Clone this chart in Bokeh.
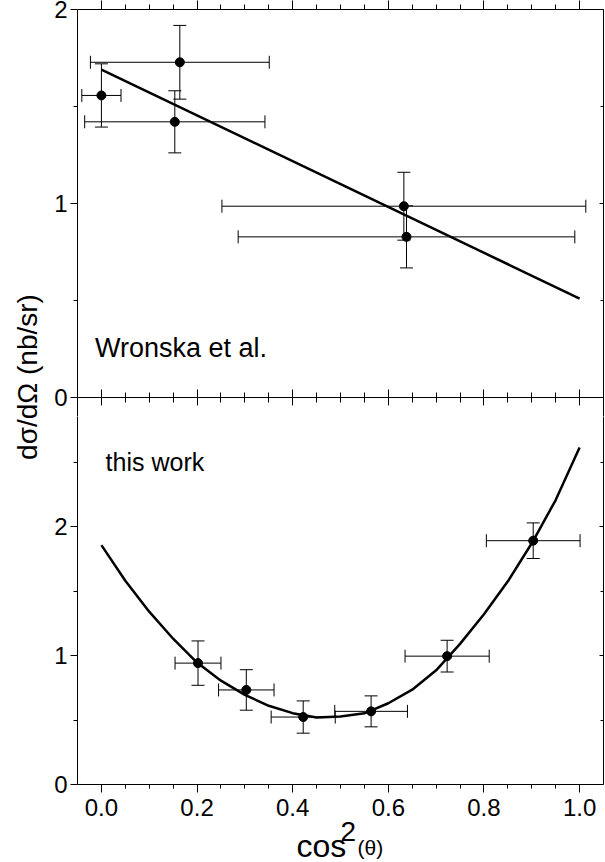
import numpy as np
from bokeh.plotting import figure
from bokeh.models import (LinearAxis, FixedTicker, Range1d, ColumnDataSource, Grid,
                          Whisker, TeeHead, Label, PrintfTickFormatter)
from bokeh.layouts import row, column
from bokeh.embed import file_html
from bokeh.resources import INLINE

# ---------------- data ----------------
# Wronska et al. (upper panel)
w_x = [0.0, 0.164, 0.1535, 0.6325, 0.638]
w_y = [1.557, 1.728, 1.421, 0.986, 0.828]
w_xerr = [0.041, 0.187, 0.1885, 0.3805, 0.352]
w_yerr = [0.163, 0.19, 0.16, 0.175, 0.16]
w_fit_x = [0.0, 1.0]
w_fit_y = [1.69, 0.51]

# this work (lower panel)
t_x = [0.202, 0.303, 0.422, 0.564, 0.723, 0.903]
t_y = [0.941, 0.733, 0.523, 0.567, 0.995, 1.89]
t_xerr = [0.048, 0.058, 0.067, 0.076, 0.088, 0.098]
t_yerr = [0.172, 0.157, 0.125, 0.12, 0.123, 0.138]
t_fit_x = [0.0, 0.05, 0.1, 0.15, 0.2, 0.25, 0.3, 0.35, 0.4, 0.45, 0.5,
           0.55, 0.6, 0.65, 0.7, 0.75, 0.8, 0.85, 0.9, 0.95, 1.0]
t_fit_y = [1.856, 1.58, 1.34, 1.13, 0.945, 0.805, 0.695, 0.61, 0.553, 0.52, 0.527,
           0.552, 0.63, 0.735, 0.885, 1.09, 1.32, 1.575, 1.87, 2.205, 2.613]

x_major = [0.0, 0.2, 0.4, 0.6, 0.8, 1.0]
x_minor = [0.05, 0.1, 0.15, 0.25, 0.3, 0.35, 0.45, 0.5, 0.55, 0.65, 0.7, 0.75, 0.85, 0.9, 0.95]
top_y_major = [0, 1, 2]
top_y_minor = [0.5, 1.5]
bot_y_major = [0, 1, 2]
bot_y_minor = [0.5, 1.5, 2.5]

FONT = "Liberation Sans"

# ---------------- geometry (pixels) ----------------
FW = 526                                 # frame width
FT, MID, BOT0, FB = 9, 397, 784, 862     # frame top, panel boundary, lower y=0, page bottom
SPLIT = 416                              # where the upper figure's canvas ends
PX_TOP = (MID - FT) / 2.0                # px per unit, upper panel (0..2)
PX_BOT = (BOT0 - MID) / 3.0              # px per unit, lower panel (0..3)
XMIN, XMAX = -0.05, 1.05


def make_fig(y_range, fh, btop):
    f = figure(frame_width=FW, frame_height=fh,
               x_range=Range1d(XMIN, XMAX), y_range=y_range,
               x_axis_location=None, y_axis_location=None,
               toolbar_location=None, output_backend="svg",
               min_border_left=29, min_border_right=2, min_border_top=btop, min_border_bottom=0)
    f.center = [r for r in f.center if not isinstance(r, Grid)]
    f.outline_line_color = None
    f.background_fill_color = "white"
    f.border_fill_color = "white"
    return f


def axis(f, side, ticks, minor, labels, tin, tout, mtin, mtout, standoff=4,
         fixed=None, bounds="auto", fmt=None):
    kw = dict(bounds=bounds)
    if fixed is not None:
        kw["fixed_location"] = fixed
    ax = LinearAxis(**kw)
    ax.ticker = FixedTicker(ticks=ticks, minor_ticks=minor)
    ax.axis_line_color = "black"
    ax.axis_line_width = 1
    ax.major_tick_line_color = "black"
    ax.minor_tick_line_color = "black"
    ax.major_tick_in = tin
    ax.major_tick_out = tout
    ax.minor_tick_in = mtin
    ax.minor_tick_out = mtout
    if labels:
        ax.major_label_text_font = FONT
        ax.major_label_text_font_size = "24px"
        ax.major_label_text_color = "black"
        ax.major_label_standoff = standoff
    else:
        ax.major_label_text_font_size = "0px"
        ax.major_label_text_color = None
        ax.major_label_standoff = 0
    if fmt is not None:
        ax.formatter = fmt
    f.add_layout(ax, side)
    return ax


def add_errors(f, xs, ys, xe, ye):
    src = ColumnDataSource(dict(
        x=xs, y=ys,
        xl=[a - b for a, b in zip(xs, xe)], xu=[a + b for a, b in zip(xs, xe)],
        yl=[a - b for a, b in zip(ys, ye)], yu=[a + b for a, b in zip(ys, ye)]))
    for dim, base, lo, up in (("height", "x", "yl", "yu"), ("width", "y", "xl", "xu")):
        f.add_layout(Whisker(source=src, base=base, lower=lo, upper=up, dimension=dim,
                             line_color="black", line_width=1,
                             upper_head=TeeHead(size=13, line_color="black", line_width=1),
                             lower_head=TeeHead(size=13, line_color="black", line_width=1)))
    f.scatter("x", "y", source=src, size=9, color="black")


# ---------------- upper panel (canvas 0..SPLIT) ----------------
top = make_fig(Range1d(-(SPLIT - MID) / PX_TOP, 2), SPLIT - FT, FT)
axis(top, "left", top_y_major, top_y_minor, True, 0, 7, 0, 4, standoff=3)
axis(top, "right", top_y_major, top_y_minor, False, 4, 0, 3, 0)
axis(top, "above", x_major, x_minor, False, 0, 9, 0, 5)
# boundary between the two panels: ticks pointing up and down
axis(top, "below", x_major, x_minor, False, 8, 8, 5, 5, fixed=0)

top.line(w_fit_x, w_fit_y, line_color="black", line_width=2.5)
add_errors(top, w_x, w_y, w_xerr, w_yerr)
top.add_layout(Label(x=-0.0136, y=0.2526, text="Wronska et al.",
                     text_font=FONT, text_font_size="27px", text_color="black",
                     text_baseline="alphabetic"))

# ---------------- lower panel (canvas SPLIT..FB) ----------------
bot = make_fig(Range1d(-(FB - BOT0) / PX_BOT, 3 - (SPLIT - MID) / PX_BOT), FB - SPLIT, 0)
axis(bot, "left", bot_y_major, bot_y_minor, True, 0, 7, 0, 4, standoff=3, bounds=(0, 3))
axis(bot, "right", bot_y_major, bot_y_minor, False, 4, 0, 3, 0, bounds=(0, 3))
axis(bot, "below", x_major, x_minor, True, 0, 8, 0, 4, standoff=6, fixed=0,
     fmt=PrintfTickFormatter(format="%.1f"))

bot.line(t_fit_x, t_fit_y, line_color="black", line_width=2.5)
add_errors(bot, t_x, t_y, t_xerr, t_yerr)
bot.add_layout(Label(x=0.0088, y=2.498, text="this work", text_font=FONT,
                     text_font_size="25px", text_color="black", text_baseline="alphabetic"))

# x-axis title: cos^2(θ)  (screen units from the frame's lower-left corner)
bot.add_layout(Label(x=219, y=17, x_units="screen", y_units="screen", text="cos",
                     text_font=FONT, text_font_size="32px", text_color="black",
                     text_baseline="alphabetic"))
bot.add_layout(Label(x=263, y=31, x_units="screen", y_units="screen", text="2",
                     text_font=FONT, text_font_size="28px", text_color="black",
                     text_baseline="alphabetic"))
bot.add_layout(Label(x=280, y=15, x_units="screen", y_units="screen", text="(θ)",
                     text_font=FONT, text_font_size="21px", text_color="black",
                     text_baseline="alphabetic"))

# ---------------- y-axis title column ----------------
lab = figure(width=48, height=FB, x_range=Range1d(0, 1), y_range=Range1d(0, 1),
             x_axis_location=None, y_axis_location=None, toolbar_location=None,
             output_backend="svg", min_border=0)
lab.center = [r for r in lab.center if not isinstance(r, Grid)]
lab.outline_line_color = None
lab.add_layout(Label(x=27, y=485.5, x_units="screen", y_units="screen",
                     text="dσ/dΩ (nb/sr)", angle=np.pi / 2, text_align="center",
                     text_baseline="middle", text_font=FONT, text_font_size="28px",
                     text_color="black"))

layout = row(lab, column(top, bot, spacing=0), spacing=0)

open("out.html", "w").write(file_html(layout, INLINE))
